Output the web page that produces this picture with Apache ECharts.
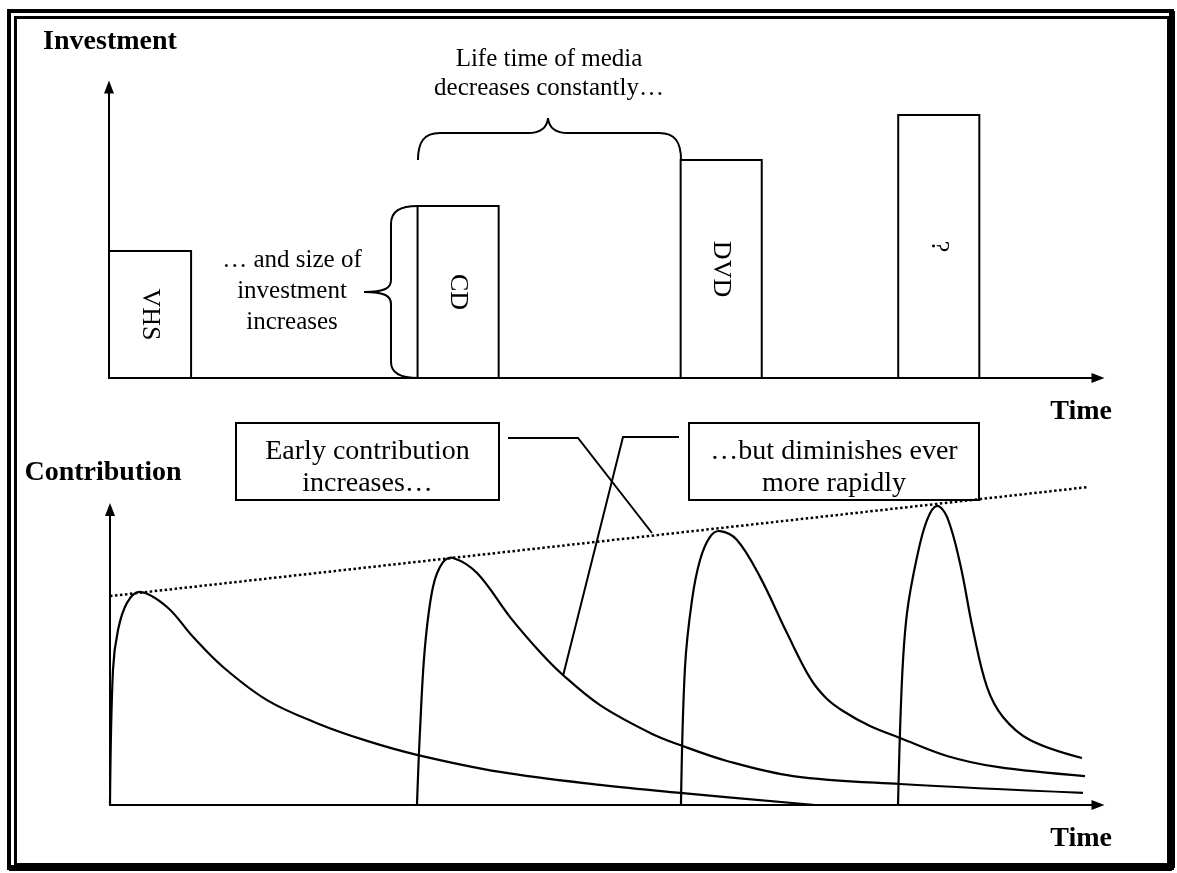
<!DOCTYPE html>
<html><head><meta charset="utf-8">
<script src="https://cdn.jsdelivr.net/npm/echarts@6/dist/echarts.min.js"></script>
<style>html,body{margin:0;padding:0;background:#fff}#c{width:1177px;height:873px}</style>
</head><body><div id="c"></div>
<script>
// ---- Top panel: media investment blocks (time span and size) ----
const mediaNames = ['VHS', 'CD', 'DVD', '?'];
const mediaStart = [0, 31.2, 57.8, 79.8];
const mediaEnd = [8.3, 39.4, 66.0, 88.0];
const investment = [43.6, 59.1, 74.9, 90.4];

// ---- Bottom panel: contribution curves over time ----
const vhsTime = [0, 0.30, 0.81, 1.72, 3.04, 5.77, 8.40, 11.44, 15.89, 20.95, 26.01, 31.17, 39.47, 49.6, 57.69, 71.36];
const vhsContribution = [0, 45.7, 59.2, 68.4, 72.1, 67.0, 56.9, 46.7, 35.5, 27.7, 21.7, 16.9, 11.2, 6.8, 4.1, 0];

const cdTime = [31.07, 31.38, 31.88, 32.69, 33.70, 34.72, 37.15, 40.49, 43.52, 45.85, 49.60, 54.66, 57.69, 62.45, 69.13, 79.96, 98.48];
const cdContribution = [0, 25.4, 53.5, 73.8, 82.2, 83.6, 78.5, 63.6, 51.8, 44.0, 33.8, 24.4, 20.3, 14.9, 9.8, 7.1, 4.1];

const dvdTime = [57.79, 58.20, 58.91, 59.72, 60.73, 61.74, 63.46, 65.79, 68.52, 70.85, 72.47, 74.19, 76.92, 79.96, 84.72, 89.78, 98.68];
const dvdContribution = [0, 46.7, 69.4, 82.9, 90.7, 92.7, 89.7, 77.2, 58.2, 43.0, 36.2, 31.8, 26.7, 22.7, 16.6, 12.9, 9.8];

const nextTime = [79.76, 80.16, 80.67, 81.68, 82.69, 83.70, 84.72, 86.03, 87.35, 88.77, 90.38, 93.12, 98.38];
const nextContribution = [0, 42.3, 65.0, 83.9, 96.4, 101.2, 97.5, 81.9, 59.2, 39.9, 29.8, 22.0, 15.9];

const trendTime = [0, 99];
const trendContribution = [70.7, 107.6];

const zip = (xs, ys) => xs.map((x, i) => [x, ys[i]]);
const FONT = '"Liberation Serif", "Times New Roman", serif';

const chart = echarts.init(document.getElementById('c'), null, {renderer: 'canvas'});

const axisLine = {
  show: true, onZero: false,
  symbol: ['none', 'triangle'], symbolSize: [10, 13],
  lineStyle: {color: '#000', width: 2}
};
const plainAxis = (extra) => Object.assign({
  type: 'value', min: 0, max: 100,
  axisLine: axisLine, axisTick: {show: false}, axisLabel: {show: false}, splitLine: {show: false}
}, extra);

// smooth curve through all points of one series, positioned by the axes (api.coord)
const curve = (name, xs, ys) => {
  const pts = zip(xs, ys);
  return {
    name, type: 'custom', xAxisIndex: 1, yAxisIndex: 1, data: pts, clip: false, z: 3, silent: true,
    renderItem: function (params, api) {
      if (params.dataIndex !== 0) return null;
      return {
        type: 'polyline',
        shape: {points: pts.map(p => api.coord(p)), smooth: 0.36},
        style: {fill: 'none', stroke: '#000', lineWidth: 2.2}
      };
    }
  };
};

const mediaData = mediaNames.map((n, i) => [mediaStart[i], mediaEnd[i], investment[i], n]);

// drawing helpers for annotation strokes
const stroke = {fill: 'none', stroke: '#000', lineWidth: 2};
const bz = (x1, y1, cx1, cy1, cx2, cy2, x2, y2) => ({type: 'bezierCurve', silent: true,
  shape: {x1, y1, cpx1: cx1, cpy1: cy1, cpx2: cx2, cpy2: cy2, x2, y2}, style: stroke});
const ln = (x1, y1, x2, y2) => ({type: 'line', silent: true, shape: {x1, y1, x2, y2}, style: stroke});
const txt = (x, y, text, size, extra) => ({type: 'text', x, y, silent: true,
  style: Object.assign({text, font: size + 'px ' + FONT, fill: '#000', align: 'center', verticalAlign: 'middle'}, extra || {})});
const BOLD = 'bold 28px ' + FONT;

const option = {
  backgroundColor: '#fff',
  animation: false,
  grid: [
    {left: 109, top: 87, width: 989, height: 291},
    {left: 110, top: 509.5, width: 988, height: 295.5}
  ],
  xAxis: [plainAxis({gridIndex: 0}), plainAxis({gridIndex: 1})],
  yAxis: [plainAxis({gridIndex: 0}), plainAxis({gridIndex: 1})],
  series: [
    {
      type: 'custom', xAxisIndex: 0, yAxisIndex: 0, data: mediaData, clip: false, z: 2,
      renderItem: function (params, api) {
        const p0 = api.coord([api.value(0), api.value(2)]);
        const p1 = api.coord([api.value(1), 0]);
        const name = mediaData[params.dataIndex][3];
        return {
          type: 'group',
          children: [
            {type: 'rect', shape: {x: p0[0], y: p0[1], width: p1[0] - p0[0], height: p1[1] - p0[1]},
             style: {fill: '#fff', stroke: '#000', lineWidth: 2}},
            {type: 'text', x: (p0[0] + p1[0]) / 2, y: (p0[1] + p1[1]) / 2, rotation: -Math.PI / 2,
             style: {text: name, font: '26px ' + FONT, fill: '#000', align: 'center', verticalAlign: 'middle'}}
          ]
        };
      }
    },
    {
      name: 'trend', type: 'line', xAxisIndex: 1, yAxisIndex: 1, data: zip(trendTime, trendContribution),
      showSymbol: false, symbol: 'none', clip: false, silent: true, z: 2,
      lineStyle: {color: '#000', width: 2.5, type: [2.5, 2.5]}
    },
    curve('VHS', vhsTime, vhsContribution),
    curve('CD', cdTime, cdContribution),
    curve('DVD', dvdTime, dvdContribution),
    curve('?', nextTime, nextContribution)
  ],
  graphic: [
    // frame
    {type: 'rect', silent: true, shape: {x: 9, y: 11, width: 1163, height: 857}, style: {fill: 'none', stroke: '#000', lineWidth: 4}},
    {type: 'rect', silent: true, shape: {x: 15.5, y: 17.5, width: 1153, height: 847}, style: {fill: 'none', stroke: '#000', lineWidth: 3}},
    {type: 'line', silent: true, shape: {x1: 1172, y1: 11, x2: 1172, y2: 868}, style: {stroke: '#000', lineWidth: 6}},
    {type: 'line', silent: true, shape: {x1: 9, y1: 868, x2: 1172, y2: 868}, style: {stroke: '#000', lineWidth: 6}},
    // axis titles
    txt(110, 42, 'Investment', 28, {font: BOLD}),
    txt(1112, 412, 'Time', 28, {font: BOLD, align: 'right'}),
    txt(103, 473, 'Contribution', 28, {font: BOLD}),
    txt(1112, 839, 'Time', 28, {font: BOLD, align: 'right'}),
    // top annotations
    txt(549, 74, 'Life time of media\ndecreases constantly…', 25, {lineHeight: 29}),
    bz(418, 160, 418, 142, 424, 133, 440, 133),
    ln(440, 133, 528, 133),
    bz(528, 133, 541, 133, 547, 128, 548, 118),
    bz(548, 118, 549, 128, 555, 133, 568, 133),
    ln(568, 133, 659, 133),
    bz(659, 133, 675, 133, 681, 142, 681, 160),
    txt(292, 291, '… and size of\ninvestment\nincreases', 25, {lineHeight: 31}),
    bz(418, 206, 400, 206, 391, 211, 391, 224),
    ln(391, 224, 391, 280),
    bz(391, 280, 391, 288, 385, 292, 364, 292),
    bz(364, 292, 385, 292, 391, 296, 391, 304),
    ln(391, 304, 391, 362),
    bz(391, 362, 391, 373, 400, 378, 418, 378),
    // callouts
    {type: 'rect', silent: true, shape: {x: 236, y: 423, width: 263, height: 77}, style: {fill: '#fff', stroke: '#000', lineWidth: 2}},
    txt(367.5, 468, 'Early contribution\nincreases…', 28, {lineHeight: 32}),
    {type: 'rect', silent: true, shape: {x: 689, y: 423, width: 290, height: 77}, style: {fill: '#fff', stroke: '#000', lineWidth: 2}},
    txt(834, 468, '…but diminishes ever\nmore rapidly', 28, {lineHeight: 32}),
    {type: 'polyline', silent: true, shape: {points: [[508, 438], [578, 438], [652, 533]]}, style: stroke},
    {type: 'polyline', silent: true, shape: {points: [[679, 437], [623, 437], [563, 676]]}, style: stroke}
  ]
};
chart.setOption(option);
</script>
</body></html>
